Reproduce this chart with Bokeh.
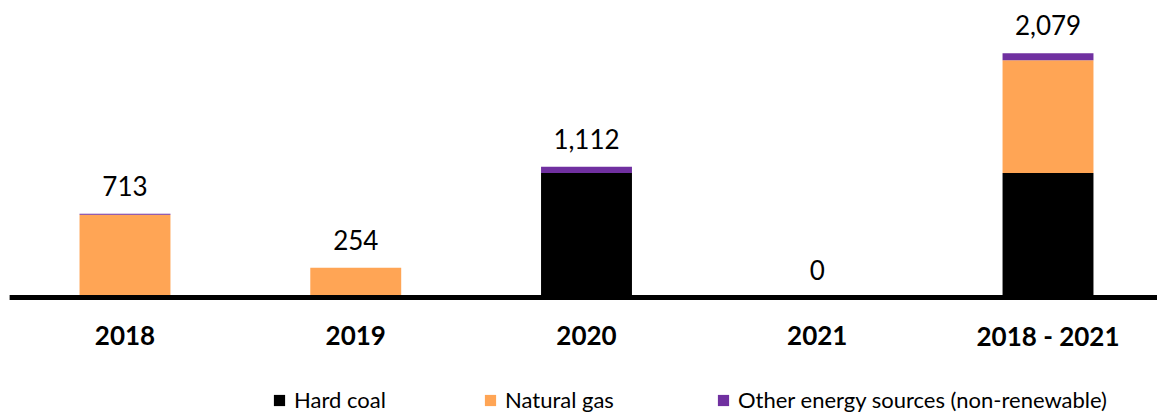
from bokeh.plotting import figure
from bokeh.models import ColumnDataSource, Range1d, Legend, LegendItem
from bokeh.embed import file_html
from bokeh.resources import INLINE
from bokeh.core.properties import value

# Net capacity per period, by energy source
periods = ["2018", "2019", "2020", "2021", "2018 - 2021"]
hard_coal = [0, 0, 1060, 0, 1060]
natural_gas = [705, 254, 0, 0, 959]
other_sources = [8, 0, 52, 0, 60]
series_names = ["Hard coal", "Natural gas", "Other energy sources (non-renewable)"]
series_colors = ["#000000", "#FFA555", "#7030A0"]

FONT = "Lato"

xs = list(range(len(periods)))
totals = [a + b + c for a, b, c in zip(hard_coal, natural_gas, other_sources)]

source = ColumnDataSource(dict(
    x=xs,
    zero=[0] * len(xs),
    period=periods,
    hard_coal=hard_coal,
    natural_gas=natural_gas,
    other_sources=other_sources,
    total=totals,
    total_label=[f"{t:,}" for t in totals],
))

x_range = Range1d(-0.5395, 4.4745)
p = figure(
    width=1157, height=413,
    x_range=x_range,
    y_range=Range1d(-987, 2528),
    output_backend="svg",
    toolbar_location=None,
    min_border=0,
)
p.axis.visible = False
p.grid.visible = False
p.outline_line_color = None
p.background_fill_color = "white"
p.border_fill_color = "white"

renderers = p.vbar_stack(
    ["hard_coal", "natural_gas", "other_sources"],
    x="x", width=0.394, color=series_colors, source=source,
    line_color=None,
)

# Category baseline
p.segment(x0=-0.5, y0=0, x1=x_range.end, y1=0, line_color="#000000", line_width=5)

# Category labels under the baseline
p.text(
    x="x", y="zero", text="period", source=source,
    text_align="center", text_baseline="alphabetic", y_offset=38,
    text_font=value(FONT), text_font_style="bold", text_font_size="26px",
    text_color="#000000",
)

# Value labels above each stack
p.text(
    x="x", y="total", text="total_label", source=source,
    text_align="center", text_baseline="alphabetic", y_offset=-28,
    text_font=value(FONT), text_font_size="26px", text_color="#000000",
)

# One legend entry per source, laid out along the bottom
legend_x = [272, 483, 716]
for name, rend, lx in zip(series_names, renderers, legend_x):
    leg = Legend(
        items=[LegendItem(label=name, renderers=[rend])],
        location=(lx, 0),
        orientation="horizontal",
        border_line_color=None,
        background_fill_alpha=0,
        padding=0, margin=0,
        glyph_width=14, glyph_height=14,
        label_standoff=8,
        label_text_font=FONT,
        label_text_font_size="22px",
        label_text_color="#000000",
    )
    p.add_layout(leg)

open("out.html", "w").write(file_html(p, INLINE))
